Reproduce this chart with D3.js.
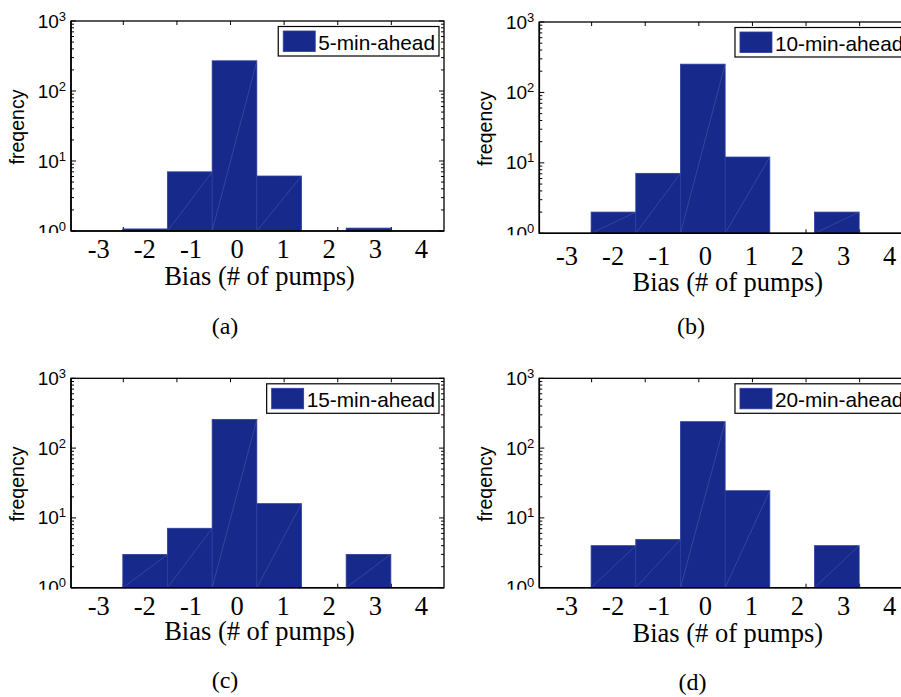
<!DOCTYPE html>
<html>
<head>
<meta charset="utf-8">
<script src="https://cdn.jsdelivr.net/npm/d3@7"></script>
<style>
  html, body { margin: 0; padding: 0; background: #fff; }
  svg { display: block; }
</style>
</head>
<body>
<script>
// ---------------- data ----------------
const bins = [-3, -2, -1, 0, 1, 2, 3, 4];
const freq5min  = [0, 1.07, 7.0, 270, 6.1, 1, 1.1, 0];
const freq10min = [0, 2.0, 7.1, 252, 12.1, 1, 2.0, 0];
const freq15min = [0, 3.0, 7.1, 258, 16.0, 0, 3.0, 0];
const freq20min = [0, 4.0, 4.9, 239, 24.5, 0, 4.0, 0];
const seriesNames = ["5-min-ahead", "10-min-ahead", "15-min-ahead", "20-min-ahead"];
const captions = ["(a)", "(b)", "(c)", "(d)"];
const xTickLabels = ["-3", "-2", "-1", "0", "1", "2", "3", "4"];
const yTickExponents = [0, 1, 2, 3];
const topTickValues = [-2.5, -1.3, -0.1, 1.1, 2.3, 3.5];
const xLabelText = "Bias (# of pumps)";
const yLabelText = "freqency";

const allSeries = [freq5min, freq10min, freq15min, freq20min];

// ---------------- layout ----------------
const W = 901, H = 697;
const panels = [
  { left: 71,    top: 21,    width: 373, height: 210,   tickDy: 27, xlabDy: 54, capX: 225,   capY: 334 },
  { left: 539.3, top: 22,    width: 373, height: 211.3, tickDy: 32, xlabDy: 58, capX: 691,   capY: 334 },
  { left: 71,    top: 378.3, width: 373, height: 209.4, tickDy: 27, xlabDy: 52, capX: 225,   capY: 688 },
  { left: 539.3, top: 378.3, width: 373, height: 209.4, tickDy: 27, xlabDy: 54, capX: 692.5, capY: 690 }
];

const BAR = "#17298a";
const BAR_EDGE = "#2c3c9c";
const SEAM = "#5866b4";
const SERIF = "'Liberation Serif', 'Times New Roman', serif";
const SANS = "'Liberation Sans', Arial, Helvetica, sans-serif";

const svg = d3.select("body").append("svg")
  .attr("width", W).attr("height", H)
  .attr("viewBox", `0 0 ${W} ${H}`);

const defs = svg.append("defs");

panels.forEach((p, i) => {
  const values = allSeries[i];
  const g = svg.append("g").attr("transform", `translate(${p.left},${p.top})`);

  const x = d3.scaleLinear().domain([-3.66, 4.69]).range([0, p.width]);
  const xLab = d3.scaleLinear().domain([-3, 4]).range([0.073 * p.width, 0.938 * p.width]);
  const y = d3.scaleLog().domain([1, 1000]).range([p.height, 0]);

  // bottom/top ticks (under bars)
  const topAxis = d3.axisTop(x).tickValues(topTickValues).tickSize(-4).tickFormat("");
  const botAxis = d3.axisBottom(x).tickValues(topTickValues).tickSize(-4).tickFormat("");
  g.append("g").call(topAxis).call(s => { s.select(".domain").remove(); s.selectAll("line").attr("stroke", "#000").attr("stroke-width", 1); });
  g.append("g").attr("transform", `translate(0,${p.height})`).call(botAxis)
    .call(s => { s.select(".domain").remove(); s.selectAll("line").attr("stroke", "#000").attr("stroke-width", 1); });

  // log minor/major ticks left and right
  const minor = [];
  for (let d = 0; d < 3; d++) for (let m = 2; m <= 9; m++) minor.push(m * Math.pow(10, d));
  const major = yTickExponents.map(e => Math.pow(10, e));
  const tg = g.append("g").attr("stroke", "#000").attr("stroke-width", 1);
  [[0, 1], [p.width, -1]].forEach(([x0, dir]) => {
    tg.selectAll(null).data(minor).join("line")
      .attr("x1", x0).attr("x2", x0 + dir * 3)
      .attr("y1", d => y(d)).attr("y2", d => y(d));
    tg.selectAll(null).data(major).join("line")
      .attr("x1", x0).attr("x2", x0 + dir * 5)
      .attr("y1", d => y(d)).attr("y2", d => y(d));
  });

  // bars
  const barData = bins.map((b, k) => ({ b, v: values[k] })).filter(d => d.v > 1);
  g.append("g").selectAll("rect").data(barData).join("rect")
    .attr("x", d => x(d.b - 0.5))
    .attr("y", d => y(d.v))
    .attr("width", d => x(d.b + 0.5) - x(d.b - 0.5))
    .attr("height", d => y(1) - y(d.v))
    .attr("fill", BAR)
    .attr("stroke", BAR_EDGE)
    .attr("stroke-width", 0.8);
  // rendering seams (diagonals)
  g.append("g").selectAll("line").data(barData.filter(d => d.v > 1.5)).join("line")
    .attr("x1", d => x(d.b - 0.5)).attr("y1", y(1))
    .attr("x2", d => x(d.b + 0.5)).attr("y2", d => y(d.v))
    .attr("stroke", SEAM).attr("stroke-width", 0.6).attr("opacity", 0.8);

  // frame
  g.append("rect").attr("x", 0).attr("y", 0).attr("width", p.width).attr("height", p.height)
    .attr("fill", "none").attr("stroke", "#000").attr("stroke-width", 1.3);
  g.append("line").attr("x1", 0).attr("x2", 0).attr("y1", 0).attr("y2", p.height)
    .attr("stroke", "#000").attr("stroke-width", 1.6);
  g.append("line").attr("x1", 0).attr("x2", p.width).attr("y1", p.height).attr("y2", p.height)
    .attr("stroke", "#000").attr("stroke-width", 1.6);

  // y tick labels 10^n (clipped just below the axis, as in the reference)
  const clipId = "yclip" + i;
  defs.append("clipPath").attr("id", clipId).append("rect")
    .attr("x", p.left - 60).attr("y", 0).attr("width", 60).attr("height", p.top + p.height + 2);
  const yl = svg.append("g").attr("clip-path", `url(#${clipId})`)
    .append("g").attr("transform", `translate(${p.left},${p.top})`);
  yTickExponents.forEach(e => {
    const t = yl.append("text")
      .attr("x", -5).attr("y", y(Math.pow(10, e)) + 6.5)
      .attr("text-anchor", "end")
      .attr("font-family", SANS).attr("font-size", 19).attr("fill", "#000");
    t.append("tspan").text("10");
    t.append("tspan").attr("dy", -7).attr("font-size", 13).text(String(e));
  });

  // x tick labels
  const xa = d3.axisBottom(xLab).tickValues(bins).tickSize(0)
    .tickFormat((d, k) => xTickLabels[k]);
  g.append("g").attr("transform", `translate(0,${p.height})`).call(xa)
    .call(s => {
      s.select(".domain").remove();
      s.selectAll("text").attr("font-family", SERIF).attr("font-size", 26.5)
        .attr("fill", "#000").attr("dy", null).attr("y", p.tickDy);
    });

  // axis labels
  g.append("text").attr("x", p.width / 2 + 2).attr("y", p.height + p.xlabDy)
    .attr("text-anchor", "middle").attr("font-family", SERIF).attr("font-size", 26.5)
    .attr("fill", "#000").text(xLabelText);
  g.append("text")
    .attr("transform", `translate(-47,${p.height / 2 + 1}) rotate(-90)`)
    .attr("text-anchor", "middle").attr("font-family", SANS).attr("font-size", 19.5)
    .attr("fill", "#000").text(yLabelText);

  // legend
  const lg = g.append("g");
  const txt = lg.append("text").attr("font-family", SANS).attr("font-size", 20.8)
    .attr("fill", "#000").text(seriesNames[i]);
  const tw = txt.node().getComputedTextLength();
  const boxRight = p.width - 5;
  const boxLeft = boxRight - 4 - tw - 3 - 32 - 5;
  const boxTop = 5.5;
  lg.insert("rect", "text").attr("x", boxLeft).attr("y", boxTop)
    .attr("width", boxRight - boxLeft).attr("height", 29.5)
    .attr("fill", "#fff").attr("stroke", "#000").attr("stroke-width", 1.2);
  lg.insert("rect", "text").attr("x", boxLeft + 5).attr("y", boxTop + 4.5)
    .attr("width", 32).attr("height", 20.5).attr("fill", BAR).attr("stroke", BAR_EDGE).attr("stroke-width", 0.8);
  txt.attr("x", boxLeft + 5 + 32 + 3).attr("y", boxTop + 23.5);

  // caption
  svg.append("text").attr("x", p.capX).attr("y", p.capY)
    .attr("text-anchor", "middle").attr("font-family", SERIF).attr("font-size", 24)
    .attr("fill", "#000").text(captions[i]);
});
</script>
</body>
</html>
